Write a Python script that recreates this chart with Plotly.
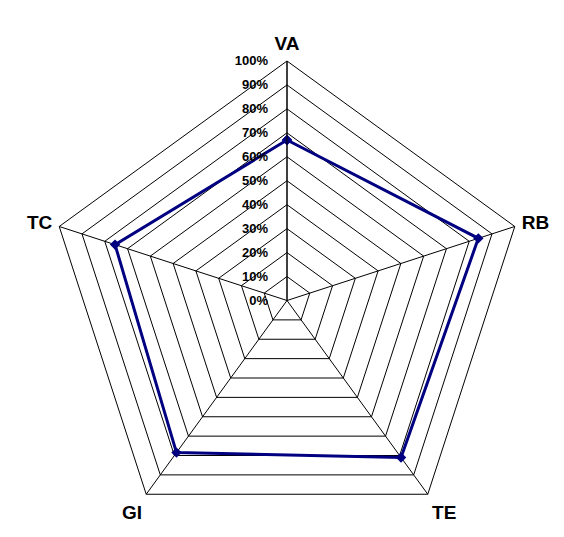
import plotly.graph_objects as go

categories = ["VA", "RB", "TE", "GI", "TC"]
values = [0.67, 0.84, 0.81, 0.785, 0.755]
tick_vals = [i / 10 for i in range(11)]
tick_text = [f"{i*10}%" for i in range(11)]

r = values + values[:1]
theta = categories + categories[:1]

fig = go.Figure()
fig.add_trace(go.Scatterpolar(
    r=r, theta=theta, mode="lines+markers",
    line=dict(color="#000080", width=3),
    marker=dict(symbol="diamond", size=8, color="#000080"),
    showlegend=False,
))

fig.update_layout(
    width=564, height=537,
    margin=dict(l=0, r=0, t=0, b=0),
    paper_bgcolor="white",
    plot_bgcolor="white",
    font=dict(family="Liberation Sans, Arial", color="black"),
    polar=dict(
        domain=dict(x=[39 / 564, 519 / 564], y=[5 / 537, 484 / 537]),
        bgcolor="white",
        gridshape="linear",
        angularaxis=dict(
            rotation=90, direction="clockwise",
            categoryorder="array", categoryarray=categories,
            linecolor="black", linewidth=1,
            gridcolor="black", gridwidth=1,
            showline=True, ticks="outside", ticklen=3,
            tickcolor="rgba(0,0,0,0)",
            tickfont=dict(size=19, family="Liberation Sans, Arial", color="black", weight="bold"),
        ),
        radialaxis=dict(
            range=[0, 1], angle=90, tickangle=90,
            tickvals=tick_vals, ticktext=tick_text,
            side="counterclockwise",
            showline=True, linecolor="black", linewidth=1,
            gridcolor="black", gridwidth=1,
            ticks="outside", ticklen=14, tickcolor="rgba(0,0,0,0)",
            tickfont=dict(size=13, family="Liberation Sans, Arial", color="black", weight="bold"),
        ),
    ),
)

fig.write_html("out.html")
